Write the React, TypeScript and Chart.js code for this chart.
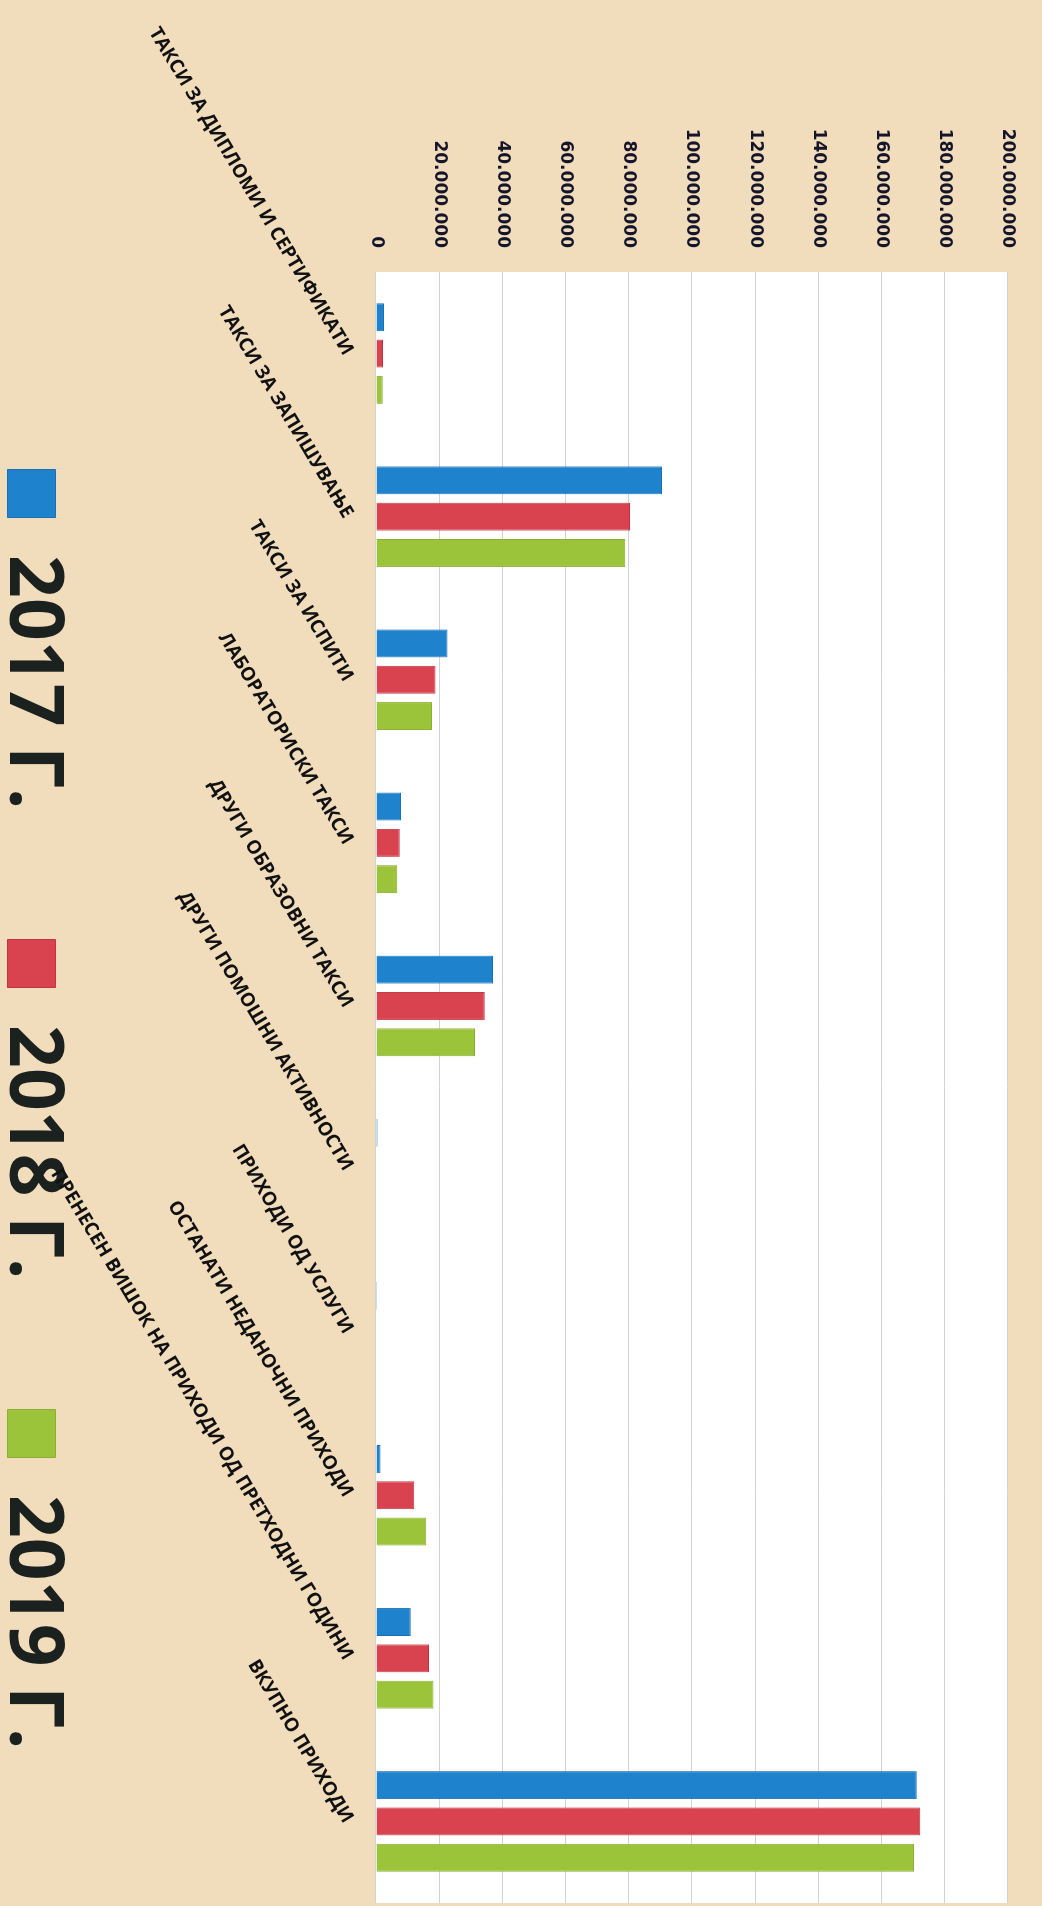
import React, { useEffect, useRef } from 'react';
import { Chart, registerables } from 'chart.js';

Chart.register(...registerables);

// ---- data ----
const categories = [
  'ТАКСИ ЗА ДИПЛОМИ И СЕРТИФИКАТИ',
  'ТАКСИ ЗА ЗАПИШУВАЊЕ',
  'ТАКСИ ЗА ИСПИТИ',
  'ЛАБОРАТОРИСКИ ТАКСИ',
  'ДРУГИ ОБРАЗОВНИ ТАКСИ',
  'ДРУГИ ПОМОШНИ АКТИВНОСТИ',
  'ПРИХОДИ ОД УСЛУГИ',
  'ОСТАНАТИ НЕДАНОЧНИ ПРИХОДИ',
  'ПРЕНЕСЕН ВИШОК НА ПРИХОДИ ОД ПРЕТХОДНИ ГОДИНИ',
  'ВКУПНО ПРИХОДИ',
];
const seriesNames = ['2017 Г.', '2018 Г.', '2019 Г.'];
const values2017 = [2500000, 90500000, 22600000, 7900000, 37000000, 500000, 300000, 1400000, 11000000, 171200000];
const values2018 = [2200000, 80400000, 18800000, 7500000, 34400000, 0, 0, 12100000, 16800000, 172300000];
const values2019 = [2100000, 78900000, 17700000, 6700000, 31300000, 0, 0, 15900000, 18200000, 170300000];
const axisMin = 0;
const axisMax = 200000000;
const axisStep = 20000000;

const formatTick = (v: number) => String(Math.round(v)).replace(/\B(?=(\d{3})+(?!\d))/g, '.');

// canvas is drawn in landscape and rotated 90° clockwise onto the page
const W = 2219;
const H = 1058;
const LEGEND_FONT = 75;
const LEGEND_BOX = 48;
const LEGEND_PITCH = 470;
const PLOT_BOTTOM = 666;

export default function App() {
  const ref = useRef<HTMLCanvasElement>(null);

  useEffect(() => {
    const canvas = ref.current;
    if (!canvas) return;

    const mctx = document.createElement('canvas').getContext('2d')!;
    mctx.font = `bold ${LEGEND_FONT}px "Open Sans"`;
    const tw = mctx.measureText(seriesNames[0]).width;
    const legendPad = Math.round(LEGEND_PITCH - LEGEND_BOX - LEGEND_FONT / 2 - tw);
    const legendHeight = LEGEND_FONT + legendPad + 10;
    const xAxisHeight = H - legendHeight - PLOT_BOTTOM;

    const whiteArea = {
      id: 'whiteArea',
      beforeDraw(chart: any) {
        const { ctx, chartArea: a } = chart;
        ctx.save();
        ctx.fillStyle = '#ffffff';
        ctx.fillRect(a.left, a.top, a.right - a.left, a.bottom - a.top);
        ctx.restore();
        // let the long category labels run past the axis box (as in the original)
        const xs = chart.scales.x;
        if (xs) xs._computeLabelArea = () => undefined;
      },
    };
    const common = { categoryPercentage: 0.668, barPercentage: 0.77, borderWidth: 1 };
    const chart = new Chart(canvas, {
      type: 'bar',
      data: {
        labels: categories,
        datasets: [
          { label: seriesNames[0], data: values2017, backgroundColor: '#1e82cd', borderColor: '#1870b5', ...common },
          { label: seriesNames[1], data: values2018, backgroundColor: '#d8434f', borderColor: '#c23540', ...common },
          { label: seriesNames[2], data: values2019, backgroundColor: '#9bc43a', borderColor: '#8ab02e', ...common },
        ],
      },
      options: {
        responsive: false,
        animation: false,
        devicePixelRatio: 1,
        layout: { padding: { top: 23, left: 0, right: 0, bottom: 0 } },
        plugins: {
          legend: {
            position: 'bottom',
            align: 'center',
            labels: {
              boxWidth: LEGEND_BOX,
              boxHeight: LEGEND_BOX,
              padding: legendPad,
              color: '#1b211e',
              font: { family: 'Open Sans', weight: 'bold', size: LEGEND_FONT },
            },
          },
          tooltip: { enabled: false },
        },
        scales: {
          x: {
            grid: { display: false, drawTicks: false },
            border: { display: false },
            ticks: {
              autoSkip: false,
              minRotation: 31,
              maxRotation: 31,
              padding: 18,
              color: '#111111',
              font: { family: 'Open Sans', weight: 'bold', size: 19 },
            },
            afterFit: (s: any) => {
              s.height = xAxisHeight;
              s.paddingLeft = 0;
              s.paddingRight = 0;
            },
          },
          y: {
            min: axisMin,
            max: axisMax,
            ticks: {
              stepSize: axisStep,
              padding: 24,
              color: '#15152a',
              font: { family: 'DejaVu Sans', weight: 'bold', size: 17 },
              callback: (v: any) => formatTick(Number(v)),
            },
            grid: { color: '#d2d2d2', lineWidth: 1, drawTicks: false },
            border: { display: false },
            afterFit: (s: any) => {
              s.width = 272;
            },
          },
          y2: {
            position: 'right',
            display: true,
            grid: { display: false, drawTicks: false },
            border: { display: false },
            ticks: { display: false },
            afterFit: (s: any) => {
              s.width = 316;
            },
          },
        },
      },
      plugins: [whiteArea],
    } as any);
    return () => chart.destroy();
  }, []);

  return (
    <div
      style={{
        position: 'fixed',
        left: 0,
        top: 0,
        width: 1042,
        height: 1906,
        overflow: 'hidden',
        background: '#f1dcbc',
      }}
    >
      <div
        style={{
          position: 'absolute',
          left: 0,
          top: 0,
          width: W,
          height: H,
          transformOrigin: '0 0',
          transform: 'translate(1042px, 0px) rotate(90deg)',
        }}
      >
        <canvas ref={ref} width={W} height={H} style={{ width: W, height: H, display: 'block' }} />
      </div>
    </div>
  );
}
